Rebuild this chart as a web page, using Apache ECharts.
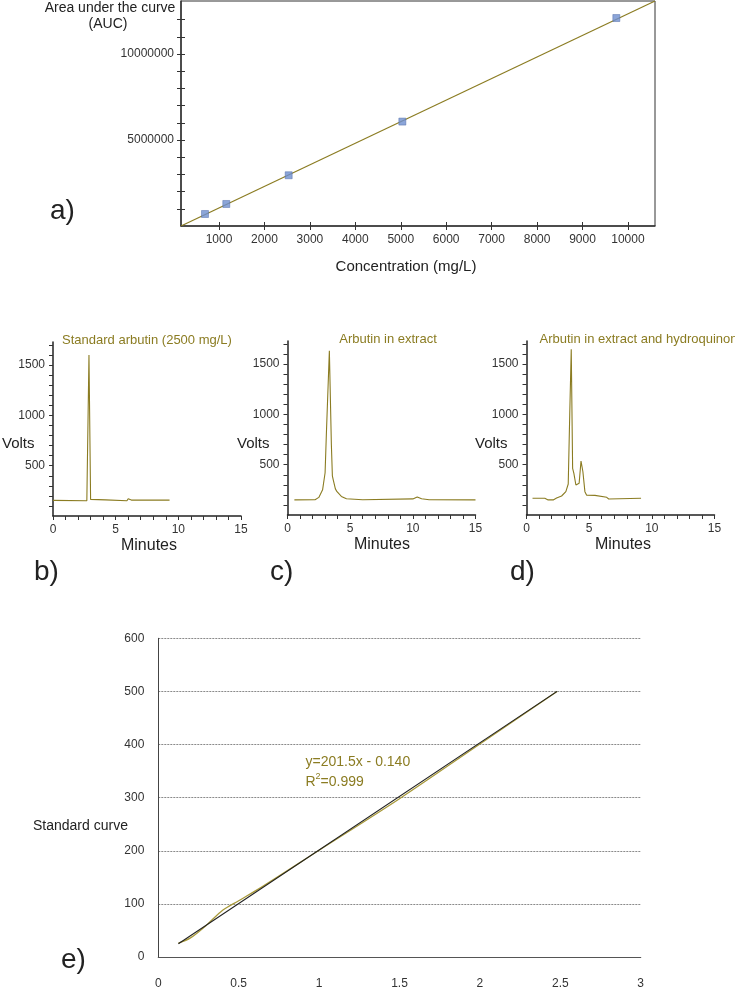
<!DOCTYPE html>
<html>
<head>
<meta charset="utf-8">
<script src="https://cdn.jsdelivr.net/npm/echarts@6/dist/echarts.min.js"></script>
<style>
html,body{margin:0;padding:0;background:#fff;}
#chart{width:735px;height:990px;}
</style>
</head>
<body>
<div id="chart"></div>
<script>
// ---------- DATA ----------
// Panel a: calibration (concentration mg/L vs AUC)
const aConc = [691, 1160, 2533, 5035, 9745];
const aAUC = [698000, 1280000, 2950000, 6070000, 12090000];
const aFitX = [163, 10596];
const aFitY = [0, 13080000];
const aXTicks = [1000, 2000, 3000, 4000, 5000, 6000, 7000, 8000, 9000, 10000];
const aYTicks = [1000000, 2000000, 3000000, 4000000, 5000000, 6000000, 7000000, 8000000, 9000000, 10000000, 11000000, 12000000];
const aYLabels = [5000000, 10000000];

// Panels b-d: chromatograms (minutes, volts)
const bTime = [0, 2.7, 2.74, 2.87, 3.0, 3.03, 4.2, 4.3, 5.9, 6.0, 6.15, 6.25, 9.3];
const bVolts = [155, 152, 160, 1600, 165, 163, 160, 150, 152, 172, 168, 158, 158];

const cTime = [0.55, 2.2, 2.5, 2.8, 3.0, 3.1, 3.34, 3.5, 3.58, 3.65, 3.82, 3.95, 4.1, 4.3, 4.7, 6.0, 10.0, 10.35, 10.7, 11.3, 15.0];
const cVolts = [150, 152, 175, 250, 420, 800, 1633, 700, 390, 350, 260, 232, 225, 185, 162, 152, 160, 180, 162, 152, 150];

const dTime = [0.48, 1.46, 1.73, 2.13, 2.4, 2.8, 3.14, 3.33, 3.45, 3.57, 3.68, 3.78, 3.94, 4.07, 4.2, 4.35, 4.5, 4.66, 4.8, 5.46, 5.52, 6.4, 6.56, 9.14];
const dVolts = [166, 166, 150, 150, 169, 189, 232, 308, 1000, 1647, 464, 414, 298, 288, 315, 537, 430, 232, 196, 195, 176, 176, 159, 166];

const chromTitles = ['Standard arbutin (2500 mg/L)', 'Arbutin in extract', 'Arbutin in extract and hydroquinone'];
const chromXTicks = [0,1,2,3,4,5,6,7,8,9,10,11,12,13,14,15];
const chromXLabels = [0, 5, 10, 15];
const chromYTicks = [100,200,300,400,500,600,700,800,900,1000,1100,1200,1300,1400,1500,1600,1700];
const chromYLabels = [500, 1000, 1500];

// Panel e: standard curve
const eFitX = [0.125, 2.48];
const eFitY = [25, 500];
const eDataX = [0.125, 0.2, 0.3, 0.4, 0.5, 0.65, 1.0, 1.5, 2.0, 2.48];
const eDataY = [26, 36, 60, 88, 106, 133, 201, 298, 401, 500];
const eEquation = 'y=201.5x - 0.140';
const eR2 = '0.999';

// ---------- STYLE ----------
const FONT = '"Liberation Sans", Arial, sans-serif';
const OLIVE = '#8b7c22';
const OLIVE_LIGHT = '#a8993a';
const TXT = '#222';
const plain = v => String(v);

function pairs(xs, ys){ return xs.map((x,i)=>[x, ys[i]]); }

const chart = echarts.init(document.getElementById('chart'), null, {renderer:'canvas'});

const grids = [
  {left:181, top:1, width:474, height:225, show:true, borderColor:'#333', borderWidth:1},
  {left:53, top:342, width:188, height:174},
  {left:287.5, top:341, width:188, height:174},
  {left:526.5, top:341, width:188, height:174},
  {left:158.3, top:638.3, width:482.4, height:320}
];

const xAxes = [];
const yAxes = [];
const series = [];

// Panel a axes (main + inner ticks to make crossing ticks)
xAxes.push({
  gridIndex:0, type:'value', min:163, max:10596, position:'bottom',
  axisLine:{show:true, lineStyle:{color:'#333', width:1.5}},
  axisTick:{show:true, inside:false, length:4, customValues:aXTicks, lineStyle:{color:'#333'}},
  axisLabel:{show:true, customValues:aXTicks, formatter:plain, margin:8, color:'#333', fontSize:12, fontFamily:FONT},
  splitLine:{show:false}
});
xAxes.push({
  gridIndex:0, type:'value', min:163, max:10596, position:'bottom',
  axisLine:{show:false},
  axisTick:{show:true, inside:true, length:4, customValues:aXTicks, lineStyle:{color:'#333'}},
  axisLabel:{show:false}, splitLine:{show:false}
});
yAxes.push({
  gridIndex:0, type:'value', min:0, max:13080000, position:'left',
  axisLine:{show:true, lineStyle:{color:'#333', width:1.5}},
  axisTick:{show:true, inside:false, length:4, customValues:aYTicks, lineStyle:{color:'#333'}},
  axisLabel:{show:true, customValues:aYLabels, formatter:plain, margin:7, color:'#333', fontSize:12, fontFamily:FONT},
  splitLine:{show:false}
});
yAxes.push({
  gridIndex:0, type:'value', min:0, max:13080000, position:'left',
  axisLine:{show:false},
  axisTick:{show:true, inside:true, length:4, customValues:aYTicks, lineStyle:{color:'#333'}},
  axisLabel:{show:false}, splitLine:{show:false}
});
series.push({
  type:'line', xAxisIndex:0, yAxisIndex:0, data:pairs(aFitX, aFitY),
  symbol:'none', lineStyle:{color:OLIVE, width:1.2}, silent:true, z:2
});
series.push({
  type:'scatter', xAxisIndex:0, yAxisIndex:0, data:pairs(aConc, aAUC),
  symbol:'rect', symbolSize:7,
  itemStyle:{color:'#6e8fd0', borderColor:'#4d6aa6', borderWidth:0.6}, z:3
});

// Panels b-d
const chromData = [[bTime,bVolts],[cTime,cVolts],[dTime,dVolts]];
chromData.forEach((d, i) => {
  const g = i + 1;
  xAxes.push({
    gridIndex:g, type:'value', min:0, max:15, position:'bottom',
    axisLine:{show:true, lineStyle:{color:'#222', width:1.5}},
    axisTick:{show:true, inside:false, length:4, customValues:chromXTicks, lineStyle:{color:'#333'}},
    axisLabel:{show:true, customValues:chromXLabels, formatter:plain, margin:8, color:'#333', fontSize:12, fontFamily:FONT},
    splitLine:{show:false}
  });
  yAxes.push({
    gridIndex:g, type:'value', min:0, max:1730, position:'left',
    axisLine:{show:true, lineStyle:{color:'#222', width:1.5}},
    axisTick:{show:true, inside:false, length:4, customValues:chromYTicks, lineStyle:{color:'#333'}},
    axisLabel:{show:true, customValues:chromYLabels, formatter:plain, margin:8, color:'#333', fontSize:12, fontFamily:FONT},
    splitLine:{show:false}
  });
  series.push({
    type:'line', xAxisIndex:xAxes.length-1, yAxisIndex:yAxes.length-1,
    data:pairs(d[0], d[1]), symbol:'none',
    lineStyle:{color:OLIVE, width:1.1}, silent:true
  });
});

// Panel e
xAxes.push({
  gridIndex:4, type:'value', min:0, max:3, interval:0.5, position:'bottom',
  axisLine:{show:true, lineStyle:{color:'#555', width:1.2}},
  axisTick:{show:false},
  axisLabel:{show:true, formatter:plain, margin:21, color:'#333', fontSize:12, fontFamily:FONT},
  splitLine:{show:false}
});
yAxes.push({
  gridIndex:4, type:'value', min:0, max:600, interval:100, position:'left',
  axisLine:{show:true, lineStyle:{color:'#444', width:1}},
  axisTick:{show:false},
  axisLabel:{show:true, formatter:plain, margin:14, color:'#333', fontSize:12, fontFamily:FONT},
  splitLine:{show:true, lineStyle:{color:'#8a8a8a', type:[2,1], width:1}}
});
series.push({
  type:'line', xAxisIndex:xAxes.length-1, yAxisIndex:yAxes.length-1,
  data:pairs(eDataX, eDataY), symbol:'none', smooth:0.3,
  lineStyle:{color:OLIVE_LIGHT, width:1.3}, silent:true, z:2
});
series.push({
  type:'line', xAxisIndex:xAxes.length-1, yAxisIndex:yAxes.length-1,
  data:pairs(eFitX, eFitY), symbol:'none',
  lineStyle:{color:'#1f1f1f', width:1.1}, silent:true, z:3
});

// ---------- TEXT ----------
function txt(text, x, y, size, color, align){
  return {type:'text', x:x, y:y, silent:true,
    style:{text:text, fill:color||TXT, fontSize:size, fontFamily:FONT,
      align:align||'left', verticalAlign:'middle'}};
}
const graphics = [
  txt('Area under the curve', 110, 8, 14, TXT, 'center'),
  txt('(AUC)', 108, 24.5, 14, TXT, 'center'),
  txt('a)', 50, 211, 28, TXT, 'left'),
  txt('Concentration (mg/L)', 406, 267, 15, TXT, 'center'),
  txt(chromTitles[0], 147, 340, 13, OLIVE, 'center'),
  txt(chromTitles[1], 388, 339.5, 13, OLIVE, 'center'),
  txt(chromTitles[2], 539.5, 339.5, 13, OLIVE, 'left'),
  txt('Volts', 2, 443.5, 15, TXT, 'left'),
  txt('Volts', 237, 443.5, 15, TXT, 'left'),
  txt('Volts', 475, 443.5, 15, TXT, 'left'),
  txt('Minutes', 149, 546, 16, TXT, 'center'),
  txt('Minutes', 382, 545, 16, TXT, 'center'),
  txt('Minutes', 623, 545, 16, TXT, 'center'),
  txt('b)', 34, 572, 28, TXT, 'left'),
  txt('c)', 270, 572, 28, TXT, 'left'),
  txt('d)', 510, 572, 28, TXT, 'left'),
  txt('Standard curve', 33, 826, 14, TXT, 'left'),
  txt('e)', 61, 960, 28, TXT, 'left'),
  txt(eEquation, 305.5, 762, 14, OLIVE, 'left'),
  {type:'text', x:305.5, y:781, silent:true,
    style:{text:'{r|R}{s|2}{r|=' + eR2 + '}', fontFamily:FONT, verticalAlign:'middle',
      rich:{r:{fontSize:14, fill:OLIVE, fontFamily:FONT, verticalAlign:'bottom'},
            s:{fontSize:9, fill:OLIVE, fontFamily:FONT, verticalAlign:'top', padding:[0,0,8,0]}}}}
];

chart.setOption({
  animation:false,
  backgroundColor:'#fff',
  textStyle:{fontFamily:FONT},
  grid:grids,
  xAxis:xAxes,
  yAxis:yAxes,
  series:series,
  graphic:graphics
});
</script>
</body>
</html>
